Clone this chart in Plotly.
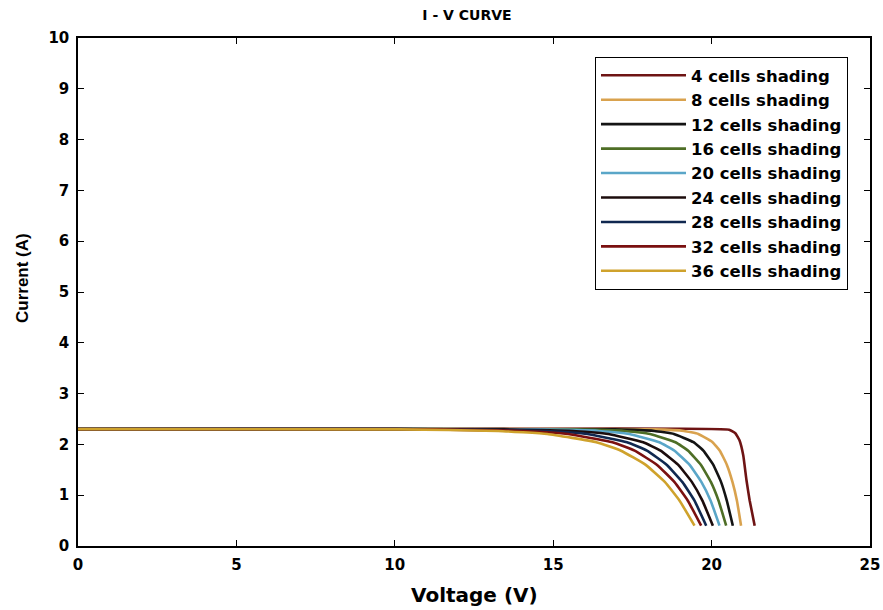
import plotly.graph_objects as go

# ---- data ----
names = ["4 cells shading", "8 cells shading", "12 cells shading", "16 cells shading",
         "20 cells shading", "24 cells shading", "28 cells shading", "32 cells shading",
         "36 cells shading"]

v_4 = [0, 10, 20.55, 20.75, 20.88, 21.0, 21.1, 21.2, 21.36]
i_4 = [2.3, 2.3, 2.29, 2.22, 2.08, 1.78, 1.3, 0.9, 0.4]

v_8 = [0, 10, 18.2, 19.13, 19.58, 20.03, 20.26, 20.48, 20.66, 20.8, 20.93]
i_8 = [2.3, 2.3, 2.295, 2.265, 2.205, 2.043, 1.876, 1.601, 1.257, 0.892, 0.4]

v_12 = [0, 10, 16.95, 18.19, 18.81, 19.43, 19.74, 20.05, 20.30, 20.48, 20.67]
i_12 = [2.3, 2.3, 2.295, 2.265, 2.205, 2.043, 1.876, 1.601, 1.257, 0.892, 0.4]

v_16 = [0, 10, 15.66, 17.26, 18.06, 18.86, 19.26, 19.66, 19.98, 20.22, 20.46]
i_16 = [2.3, 2.3, 2.295, 2.265, 2.205, 2.043, 1.876, 1.601, 1.257, 0.892, 0.4]

v_20 = [0, 10, 14.55, 16.45, 17.4, 18.35, 18.83, 19.3, 19.68, 19.97, 20.25]
i_20 = [2.3, 2.3, 2.295, 2.265, 2.205, 2.043, 1.876, 1.601, 1.257, 0.892, 0.4]

v_24 = [0, 10, 13.44, 15.64, 16.74, 17.84, 18.39, 18.94, 19.38, 19.71, 20.04]
i_24 = [2.3, 2.3, 2.295, 2.265, 2.205, 2.043, 1.876, 1.601, 1.257, 0.892, 0.4]

v_28 = [0, 10, 12.33, 14.83, 16.08, 17.33, 17.96, 18.58, 19.08, 19.46, 19.83]
i_28 = [2.3, 2.3, 2.295, 2.265, 2.205, 2.043, 1.876, 1.601, 1.257, 0.892, 0.4]

v_32 = [0, 10, 11.27, 14.07, 15.47, 16.87, 17.57, 18.27, 18.83, 19.25, 19.67]
i_32 = [2.3, 2.3, 2.295, 2.265, 2.205, 2.043, 1.876, 1.601, 1.257, 0.892, 0.4]

v_36 = [0, 10.16, 13.26, 14.81, 16.36, 17.14, 17.91, 18.53, 18.99, 19.46]
i_36 = [2.3, 2.295, 2.265, 2.205, 2.043, 1.876, 1.601, 1.257, 0.892, 0.4]

x_ticks = [0, 5, 10, 15, 20, 25]
y_ticks = [0, 1, 2, 3, 4, 5, 6, 7, 8, 9, 10]

colors = ["#6e1414", "#d9a24e", "#141414", "#4e6e26", "#5aa6c8",
          "#1c0c0c", "#102850", "#7a1010", "#cfa22c"]

series = [(v_4, i_4), (v_8, i_8), (v_12, i_12), (v_16, i_16), (v_20, i_20),
          (v_24, i_24), (v_28, i_28), (v_32, i_32), (v_36, i_36)]

fig = go.Figure()
for (vx, iy), nm, c in zip(series, names, colors):
    fig.add_trace(go.Scatter(x=vx, y=iy, mode="lines", name=nm, legendgroup=nm,
                             line=dict(color=c, width=2.6, shape="spline", smoothing=0.35)))

wide = "DejaVu Sans, Verdana, sans-serif"
narrow = "Liberation Sans, Arial, sans-serif"

W, H = 883, 610
L, T, PW, PH = 78, 38, 792, 508

fig.update_layout(
    width=W, height=H,
    margin=dict(l=L, r=W - L - PW, t=T, b=H - T - PH, autoexpand=False),
    paper_bgcolor="white", plot_bgcolor="white",
    font=dict(family=wide, color="black"),
    title=dict(text="<b>I - V CURVE</b>", x=467 / W, xanchor="center",
               y=1 - 15 / H, yanchor="middle", font=dict(size=14, color="black")),
    legend=dict(x=(848 - L) / PW, y=(T + PH - 57) / PH, xanchor="right", yanchor="top",
                bgcolor="white", bordercolor="black", borderwidth=1,
                font=dict(size=16.5, family=wide, color="black", weight="bold"),
                itemwidth=85, tracegroupgap=0),
    showlegend=True,
    annotations=[
        dict(text="<b>Voltage (V)</b>", xref="paper", yref="paper",
             x=(474 - L) / PW, y=(T + PH - 595) / PH, xanchor="center", yanchor="middle",
             showarrow=False, font=dict(family=wide, size=20, color="black")),
        dict(text="<b>Current (A)</b>", xref="paper", yref="paper", textangle=-90,
             x=(22 - L) / PW, y=(T + PH - 278) / PH, xanchor="center", yanchor="middle",
             showarrow=False, font=dict(family=narrow, size=17, color="black")),
    ],
)

fig.update_xaxes(range=[0, 25], tickvals=x_ticks, ticktext=[str(t) for t in x_ticks],
                 automargin=False, ticklabelstandoff=4,
                 showgrid=False, zeroline=False, showline=True, linecolor="black",
                 linewidth=1.5, mirror="ticks", ticks="inside", ticklen=6,
                 tickcolor="black", tickfont=dict(size=15, weight="bold", family=wide))
fig.update_yaxes(range=[0, 10], tickvals=y_ticks, ticktext=[str(t) for t in y_ticks],
                 automargin=False, ticklabelstandoff=4,
                 showgrid=False, zeroline=False, showline=True, linecolor="black",
                 linewidth=1.5, mirror="ticks", ticks="inside", ticklen=6,
                 tickcolor="black", tickfont=dict(size=15, weight="bold", family=wide))

fig.write_html(
    "out.html",
    config={"displayModeBar": False},
    post_script="document.body.style.margin='0';"
                "document.documentElement.style.overflow='hidden';"
                "document.body.style.overflow='hidden';",
)
